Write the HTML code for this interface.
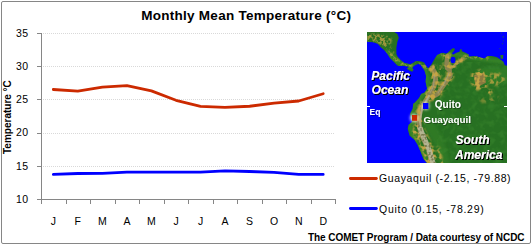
<!DOCTYPE html>
<html><head><meta charset="utf-8">
<style>
html,body{margin:0;padding:0;background:#fff;}
body{width:532px;height:245px;position:relative;overflow:hidden;font-family:"Liberation Sans",sans-serif;color:#000;}
.t{position:absolute;white-space:nowrap;line-height:1;}
#frame{position:absolute;left:1px;top:1px;width:528px;height:241px;border:1px solid #868686;border-radius:2px;}
</style></head><body>
<div id="frame"></div>
<svg width="532" height="245" style="position:absolute;left:0;top:0">
  <!-- gridlines -->
  <g stroke="#d9d9d9" stroke-width="1" stroke-dasharray="1 1">
    <line x1="43" y1="33.5" x2="335" y2="33.5"/>
    <line x1="43" y1="66.5" x2="335" y2="66.5"/>
    <line x1="43" y1="99.5" x2="335" y2="99.5"/>
    <line x1="43" y1="133.5" x2="335" y2="133.5"/>
    <line x1="43" y1="166.5" x2="335" y2="166.5"/>
  </g>
  <!-- axes -->
  <g stroke="#868686" stroke-width="1" fill="none">
    <line x1="41.5" y1="33" x2="41.5" y2="200"/>
    <line x1="37" y1="33.5" x2="41.5" y2="33.5"/>
    <line x1="37" y1="66.5" x2="41.5" y2="66.5"/>
    <line x1="37" y1="99.5" x2="41.5" y2="99.5"/>
    <line x1="37" y1="133.5" x2="41.5" y2="133.5"/>
    <line x1="37" y1="166.5" x2="41.5" y2="166.5"/>
    <line x1="37" y1="199.5" x2="336" y2="199.5"/>
    <path d="M41.5 199v5M66.5 199v5M90.5 199v5M115.5 199v5M139.5 199v5M164.5 199v5M188.5 199v5M213.5 199v5M237.5 199v5M262.5 199v5M286.5 199v5M311.5 199v5M335.5 199v5"/>
  </g>
  <!-- data -->
  <polyline fill="none" stroke="#cc2a00" stroke-width="2.8" stroke-linecap="round" stroke-linejoin="round"
    points="53.3,89.5 77.8,91.2 102.4,87.2 126.9,85.6 151.4,90.9 176,100.3 200.5,106.3 225,107.4 249.6,106.25 274.1,103.1 298.7,101 323.2,93.75"/>
  <polyline fill="none" stroke="#0000ff" stroke-width="2.8" stroke-linecap="round" stroke-linejoin="round"
    points="53.3,174.4 77.8,173.5 102.4,173.3 126.9,172.2 151.4,172.2 176,172.2 200.5,172.2 225,170.9 249.6,171.5 274.1,172.4 298.7,174.4 323.2,174.4"/>
  <!-- legend lines -->
  <line x1="350.4" y1="178.5" x2="376.4" y2="178.5" stroke="#cc2a00" stroke-width="2.8" stroke-linecap="round"/>
  <line x1="350.4" y1="208.5" x2="376.4" y2="208.5" stroke="#0000ff" stroke-width="2.8" stroke-linecap="round"/>
</svg>
<svg id="map" width="140" height="131" viewBox="0 0 140 131" style="position:absolute;left:367px;top:32px">
<defs>
<filter id="b1" x="-20%" y="-20%" width="140%" height="140%"><feGaussianBlur stdDeviation="0.6"/></filter>
<filter id="b2" x="-20%" y="-20%" width="140%" height="140%"><feGaussianBlur stdDeviation="1.5"/></filter>
<filter id="tex" x="0" y="0" width="140" height="131" filterUnits="userSpaceOnUse">
  <feGaussianBlur in="SourceGraphic" stdDeviation="1" result="src"/>
  <feTurbulence type="fractalNoise" baseFrequency="0.3" numOctaves="2" seed="7" result="n"/>
  <feColorMatrix in="n" type="matrix" values="0 0 0 0 0  0 0 0 0 0  0 0 0 0 0  6 0 0 0 -2.6" result="na"/>
  <feComposite in="src" in2="na" operator="in" result="t"/>
  <feGaussianBlur in="t" stdDeviation="0.4"/>
</filter>
<filter id="tex2" x="0" y="0" width="140" height="131" filterUnits="userSpaceOnUse">
  <feGaussianBlur in="SourceGraphic" stdDeviation="1.2" result="src"/>
  <feTurbulence type="fractalNoise" baseFrequency="0.22" numOctaves="2" seed="11" result="n"/>
  <feColorMatrix in="n" type="matrix" values="0 0 0 0 0  0 0 0 0 0  0 0 0 0 0  5 0 0 0 -2.2" result="na"/>
  <feComposite in="src" in2="na" operator="in" result="t"/>
  <feGaussianBlur in="t" stdDeviation="0.5"/>
</filter>
<filter id="tex3" x="0" y="0" width="140" height="131" filterUnits="userSpaceOnUse">
  <feTurbulence type="fractalNoise" baseFrequency="0.45" numOctaves="1" seed="5" result="n"/>
  <feColorMatrix in="n" type="matrix" values="0 0 0 0 0  0 0 0 0 0  0 0 0 0 0  5 0 0 0 -2.45" result="na"/>
  <feComposite in="SourceGraphic" in2="na" operator="in" result="t"/>
  <feGaussianBlur in="t" stdDeviation="0.35"/>
</filter>
<filter id="sh2" x="-20%" y="-30%" width="140%" height="160%"><feGaussianBlur in="SourceAlpha" stdDeviation="0.5" result="a"/><feOffset in="a" dx="0.6" dy="0.6" result="o"/><feComponentTransfer in="o" result="o2"><feFuncA type="linear" slope="0.35"/></feComponentTransfer><feMerge><feMergeNode in="o2"/><feMergeNode in="SourceGraphic"/></feMerge></filter>
<filter id="gn" x="0" y="0" width="140" height="131" filterUnits="userSpaceOnUse">
  <feTurbulence type="fractalNoise" baseFrequency="0.18" numOctaves="2" seed="21" result="n"/>
  <feColorMatrix in="n" type="matrix" values="0 0 0 0 0  0 0 0 0 0  0 0 0 0 0  3 0 0 0 -1.3" result="na"/>
  <feComposite in="SourceGraphic" in2="na" operator="in" result="t"/>
  <feGaussianBlur in="t" stdDeviation="0.6"/>
</filter>
<filter id="sh" x="-20%" y="-30%" width="140%" height="160%"><feGaussianBlur in="SourceAlpha" stdDeviation="0.6" result="a"/><feOffset in="a" dx="1.2" dy="1.2" result="o"/><feComponentTransfer in="o" result="o2"><feFuncA type="linear" slope="1.6"/></feComponentTransfer><feMerge><feMergeNode in="o2"/><feMergeNode in="SourceGraphic"/></feMerge></filter>
<filter id="glow" x="-100%" y="-100%" width="300%" height="300%"><feGaussianBlur stdDeviation="1.8"/></filter>
<clipPath id="land"><path id="landp" d="M0,0 L27.4,0 30.4,1.9 31.8,5.8 30.4,9.8 29.4,15.6 29.4,22 30.8,24.9 33.6,28 37.3,31.1 43.4,32.3 45.9,31.1 48.3,29.2 50.8,28.9 54.4,29.5 57.1,30.5 59.3,34.2 61.2,36.2 64.2,32.7 68.1,25.9 70.1,22.9 73.9,21.3 75.9,20.8 78.8,21.8 80.8,20.8 83.7,17.8 86.2,15.9 88.1,16.9 86.7,19.3 84.7,21.3 86.2,22.7 89.6,20.8 92.5,19.8 93,17.4 94.5,16.9 95,19.3 98.4,20.8 101.4,22.3 101.9,24.7 105.3,24.2 109.2,24.2 112.8,25.4 117.7,26.4 120.6,23.9 124.6,23.9 129.5,24.9 133.4,27.4 136.3,29.8 137.8,33.2 140,33.7 L140,131 L60,131 56.5,127 53.6,119.7 50.6,112.8 47.7,107.9 42.5,103.5 41.7,100.6 40.7,96.7 41.7,92.7 45.2,89.8 43.7,85.9 43.3,81.6 45.7,76.7 46.2,71.8 47.7,70.8 52.1,65.9 54.1,62 57.6,60.6 60.1,56.7 58.6,49.8 59.1,43.9 58,40 57.1,37.8 55.7,36 53.8,32.9 51.4,31.7 48.3,32.9 45.9,34.7 45.2,36 46.5,37.8 45.2,39.7 42.2,38.4 39.7,36.6 42.8,34.7 37.3,34.1 31.1,34.1 29.9,32.9 27.5,30.5 23,25.9 20.5,22 17.6,18.6 13.7,15.2 10.7,11.7 5.8,10.3 0,9.8 Z"/></clipPath>
</defs>
<rect width="140" height="131" fill="#0000ff"/>
<use href="#landp" fill="#277022"/>
<g clip-path="url(#land)">
  <rect x="70" y="30" width="70" height="101" fill="#3e8a30" filter="url(#gn)" opacity="0.45"/>
  <!-- lighter lowland green near coasts/andes -->
  <g filter="url(#b2)" fill="none" stroke="#3c8a2c" stroke-linecap="round" stroke-linejoin="round" opacity="0.8">
    <path d="M20,21 L30,29 L44,35 L57,36 L60,46 L59,58 L50,68 L44,80 L43,95 L48,108 L56,122 L62,131" stroke-width="6"/>
    <path d="M70,24 L90,22 L110,26 L138,30" stroke-width="4"/>
    <path d="M117,44 L137,44" stroke-width="16" opacity="0.6"/>
    <path d="M62,92 L72,110 L78,131" stroke-width="10" opacity="0.5"/>
  </g>
  <!-- brownish-gray andes core under texture -->
  <g filter="url(#b1)" fill="none" stroke-linecap="round" stroke-linejoin="round">
    <path d="M65,36 L67.5,40 L68.7,47.8 L66.7,54.7 L62.8,62 L57.5,70.8 L53.2,78.7 L52,86 L52.5,96 L56,106 L61,116 L65,131" stroke="#8a8450" stroke-width="5"/>
    <path d="M80.5,24 L79.5,31 L80,36 L82.4,38 L83.4,43.9 L78.5,50.7 L73.6,57.6 L70.7,62 L65.4,65" stroke="#8a8450" stroke-width="4.5"/>
    <path d="M82.5,37.6 L88.4,32.7 L95.3,26.8" stroke="#8a8448" stroke-width="2.5"/>
    <path d="M108,44 L116,42 L118,50 L110,54 Z" fill="#8a7a40" stroke="#8a7a40" stroke-width="2"/>
  </g>
  <!-- textured tan mountains -->
  <g filter="url(#tex)" fill="#bea244" stroke="#bea244" stroke-linecap="round" stroke-linejoin="round">
    <path d="M0,2 L14,2 L20,4 L25,7 L23,13 L16,13 L8,10 L0,9 Z" stroke="none" opacity="0.8"/>
    <path d="M14,13 L22,15 L26,21" fill="none" stroke-width="2.5" opacity="0.7"/>
    <path d="M21,21 L28,27 L33,31 L40,33 L44,33.5" fill="none" stroke-width="2.5"/>
    <path d="M50,31 L57,35" fill="none" stroke-width="2"/>
    <path d="M75,22.5 L79.5,23.5" fill="none" stroke-width="3"/>
    <path d="M73,34 L74,41 L71,50" fill="none" stroke-width="2"/>
    <path d="M88.4,32.7 L95.3,26.8 L100.2,23.9 L110,24.5 L120,26" fill="none" stroke-width="3"/>
    <path d="M58,33 L61,37 M62,39 L66,42" fill="none" stroke-width="2"/>
  </g>
  <g filter="url(#tex2)" fill="#c4a444" stroke="#c4a444" stroke-linecap="round" stroke-linejoin="round">
    <path d="M65,36 L67.5,40 L68.7,47.8 L66.7,54.7 L62.8,62 L57.5,70.8 L53.2,78.7 L52,86 L52.5,96 L54,104 L58,112 L62,120 L66,131" fill="none" stroke-width="8"/>
    <path d="M80.5,24 L79.5,31 L80,36 L82.4,38 L83.4,43.9 L78.5,50.7 L73.6,57.6 L70.7,62 L65.4,65" fill="none" stroke-width="7"/>
    <path d="M82.5,37.6 L88.4,32.7 L95.3,26.8" fill="none" stroke-width="5"/>
    <path d="M44,100 L48,106 L52,112 L55,119 L58,126 L60,131 L72,131 L69,122 L65,112 L61,104 L57,96 L56,88 L50,88 Z" stroke="none"/>
    <path d="M106,42 L114,39 L120,44 L119,54 L110,57 L105,50 Z" stroke-width="3"/>
    <path d="M121,42 L132,40 L139,46 L134,54 L122,53 Z" stroke="none" opacity="0.75"/>
    <path d="M120,57 L126,58 L125,63 L120,62 Z" stroke="none"/>
    <path d="M112,66 L132,64 L130,70 L114,71 Z" stroke="none" opacity="0.5"/>
    <path d="M71,116 L75,131" fill="none" stroke-width="3"/>
    <path d="M66,54 L76,52 L71,62 L62,68 L60,64 Z" stroke="none" opacity="0.8"/>
    <path d="M49,100 L52,108 L56,116 L60,131" fill="none" stroke-width="2.5"/>
  </g>
  <!-- altiplano / high andes light -->
  <g filter="url(#b1)" fill="none" stroke-linecap="round" stroke-linejoin="round">
    <path d="M82,41 L77.5,51 L71,61" stroke="#a8a488" stroke-width="1.2" opacity="0.6"/>
    <path d="M67.5,43 L66.5,54 L63,61" stroke="#a8a488" stroke-width="1.2" opacity="0.6"/>
    <path d="M62,64 L55,76 L53,90 L54,100" stroke="#b0b090" stroke-width="1.8" opacity="0.8"/>
    <path d="M53,96 L57,106 L61.5,116 L66,131" stroke="#b8b898" stroke-width="5" opacity="0.9"/>
  </g>
  <g filter="url(#tex3)" fill="none" stroke-linecap="round" stroke-linejoin="round">
    <path d="M53,96 L57,106 L61.5,116 L66,131" stroke="#7a7a50" stroke-width="6"/>
  </g>
</g>
<ellipse cx="86" cy="28" rx="2.5" ry="3.2" fill="#0000ff" filter="url(#b1)"/>
<path d="M133.4,23 L136.3,23 L136,27 L133.5,26.5Z" fill="#2a7524"/>
<g fill="#2a7524" opacity="0.6">
  <circle cx="134.4" cy="1" r="0.6"/><circle cx="136.3" cy="4.9" r="0.8"/><circle cx="136.3" cy="8.8" r="0.6"/><circle cx="135.4" cy="11.7" r="0.6"/><circle cx="132.9" cy="16.6" r="0.6"/><circle cx="137.8" cy="20.5" r="0.6"/>
</g>
<!-- equator ticks -->
<rect x="0" y="74" width="3" height="1" fill="#fff"/>
<rect x="137" y="74" width="3" height="1" fill="#fff"/>
<!-- markers -->
<circle cx="47" cy="86" r="4" fill="#fff" opacity="0.8" filter="url(#glow)"/>
<circle cx="58.7" cy="74" r="4" fill="#fff" opacity="0.6" filter="url(#glow)"/>
<rect x="56" y="71" width="5.4" height="6" fill="#0000ff"/>
<rect x="45" y="83" width="5.2" height="5.8" fill="#cc2a00"/>
<g fill="#fff" font-family="Liberation Sans, sans-serif" font-weight="bold" filter="url(#sh)">
  <text x="4.3" y="47.6" font-size="12" font-style="italic">Pacific</text>
  <text x="4.6" y="62.2" font-size="12" font-style="italic">Ocean</text>
  <text x="88.5" y="111.8" font-size="12" font-style="italic">South</text>
  <text x="88" y="126.9" font-size="12" font-style="italic">America</text>
</g>
<g fill="#fff" font-family="Liberation Sans, sans-serif" font-weight="bold" filter="url(#sh2)">
  <text x="2.6" y="82.6" font-size="8.5">Eq</text>
  <text x="67.8" y="75.6" font-size="10">Quito</text>
  <text x="56.6" y="90.8" font-size="9.8">Guayaquil</text>
</g>
</svg>

<!-- title -->
<div class="t" style="left:141.3px;top:9px;font-size:13.5px;font-weight:bold;letter-spacing:0.26px;">Monthly Mean Temperature (°C)</div>
<!-- y labels -->
<div class="t" style="left:0;width:28.5px;text-align:right;top:28px;font-size:10.5px;letter-spacing:0.4px;">35</div>
<div class="t" style="left:0;width:28.5px;text-align:right;top:61px;font-size:10.5px;letter-spacing:0.4px;">30</div>
<div class="t" style="left:0;width:28.5px;text-align:right;top:94px;font-size:10.5px;letter-spacing:0.4px;">25</div>
<div class="t" style="left:0;width:28.5px;text-align:right;top:127px;font-size:10.5px;letter-spacing:0.4px;">20</div>
<div class="t" style="left:0;width:28.5px;text-align:right;top:161px;font-size:10.5px;letter-spacing:0.4px;">15</div>
<div class="t" style="left:0;width:28.5px;text-align:right;top:194px;font-size:10.5px;letter-spacing:0.4px;">10</div>
<!-- y title -->
<div class="t" style="left:3px;top:154px;font-size:10px;font-weight:bold;transform-origin:0 0;transform:rotate(-90deg);">Temperature °C</div>
<!-- x labels -->
<div class="t" style="left:43.3px;width:20px;text-align:center;top:216px;font-size:10.5px;">J</div>
<div class="t" style="left:67.8px;width:20px;text-align:center;top:216px;font-size:10.5px;">F</div>
<div class="t" style="left:92.3px;width:20px;text-align:center;top:216px;font-size:10.5px;">M</div>
<div class="t" style="left:116.9px;width:20px;text-align:center;top:216px;font-size:10.5px;">A</div>
<div class="t" style="left:141.4px;width:20px;text-align:center;top:216px;font-size:10.5px;">M</div>
<div class="t" style="left:166.0px;width:20px;text-align:center;top:216px;font-size:10.5px;">J</div>
<div class="t" style="left:190.5px;width:20px;text-align:center;top:216px;font-size:10.5px;">J</div>
<div class="t" style="left:215.0px;width:20px;text-align:center;top:216px;font-size:10.5px;">A</div>
<div class="t" style="left:239.6px;width:20px;text-align:center;top:216px;font-size:10.5px;">S</div>
<div class="t" style="left:264.1px;width:20px;text-align:center;top:216px;font-size:10.5px;">O</div>
<div class="t" style="left:288.7px;width:20px;text-align:center;top:216px;font-size:10.5px;">N</div>
<div class="t" style="left:313.2px;width:20px;text-align:center;top:216px;font-size:10.5px;">D</div>

<!-- legend text -->
<div class="t" style="left:379px;top:173px;font-size:10.5px;letter-spacing:0.62px;">Guayaquil (-2.15, -79.88)</div>
<div class="t" style="left:379px;top:204px;font-size:10.5px;letter-spacing:0.72px;">Quito (0.15, -78.29)</div>
<!-- footer -->
<div class="t" style="left:308px;top:232.6px;font-size:10px;font-weight:bold;letter-spacing:-0.06px;">The COMET Program / Data courtesy of NCDC</div>
</body></html>
